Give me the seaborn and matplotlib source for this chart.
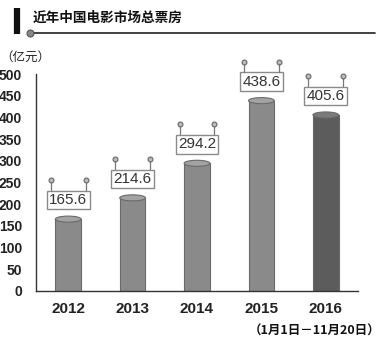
import matplotlib
matplotlib.use("Agg")
import matplotlib.pyplot as plt
import matplotlib.transforms as mtransforms
from matplotlib.patches import Ellipse
import seaborn as sns
import pandas as pd

years = ["2012", "2013", "2014", "2015", "2016"]
values = [165.6, 214.6, 294.2, 438.6, 405.6]
bar_colors = ["#8a8a8a", "#8a8a8a", "#8a8a8a", "#8a8a8a", "#5c5c5c"]
top_colors = ["#a3a3a3", "#a3a3a3", "#a3a3a3", "#a3a3a3", "#7a7a7a"]
yticks = [0, 50, 100, 150, 200, 250, 300, 350, 400, 450, 500]

sns.set_style("white")
plt.rcParams['font.family'] = ['Liberation Sans', 'Noto Sans CJK SC', 'DejaVu Sans']

df = pd.DataFrame({"year": years, "value": values})

fig = plt.figure(figsize=(3.91, 3.42), dpi=100)
ax = fig.add_axes([36/391, 1-291/342, (358-36)/391, (291-74)/342])

bw = 0.4
sns.barplot(data=df, x="year", y="value", hue="year", palette=bar_colors,
            legend=False, width=bw, ax=ax, edgecolor="#6a6a6a", linewidth=0.8,
            saturation=1)

ax.set_xlim(-0.5, 4.5)
ax.set_ylim(0, 500)

# cylinder tops
for i, v in enumerate(values):
    e = Ellipse((i, v), width=bw, height=14, facecolor=top_colors[i],
                edgecolor="#6a6a6a", linewidth=0.8, zorder=5)
    ax.add_patch(e)

# label boxes with pins
for i, v in enumerate(values):
    tr_box = mtransforms.offset_copy(ax.transData, fig=fig, x=0, y=19, units='dots')
    ax.text(i, v, f"{v}", transform=tr_box, ha="center", va="center",
            fontsize=11, color="#333333", zorder=6,
            bbox=dict(boxstyle="square,pad=0.15", facecolor="white",
                      edgecolor="#8a8a8a", linewidth=1.0))
    for dx in (-0.27, 0.27):
        tr_lo = mtransforms.offset_copy(ax.transData, fig=fig, x=0, y=29, units='dots')
        tr_hi = mtransforms.offset_copy(ax.transData, fig=fig, x=0, y=39, units='dots')
        # line from box top to pin
        x0, y0 = tr_lo.transform((i + dx, v))
        x1, y1 = tr_hi.transform((i + dx, v))
        inv = ax.transData.inverted()
        (dx0, dy0), (dx1, dy1) = inv.transform([(x0, y0), (x1, y1)])
        ax.plot([dx0, dx1], [dy0, dy1], color="#777777", lw=0.9, zorder=6,
                clip_on=False)
        ax.plot([dx1], [dy1], marker="o", ms=3.5, mfc="#bbbbbb", mec="#666666",
                mew=0.8, zorder=7, clip_on=False)

# axes styling
for s in ["top", "right"]:
    ax.spines[s].set_visible(False)
for s in ["left", "bottom"]:
    ax.spines[s].set_color("#333333")
    ax.spines[s].set_linewidth(1.0)

ax.set_yticks(yticks)
ax.set_yticklabels([str(t) for t in yticks], fontsize=10, fontweight="bold",
                   color="#222222")
ax.tick_params(axis="y", direction="in", length=4, width=0.8, color="#333333", pad=10)
ax.set_xticks(range(len(years)))
ax.set_xticklabels(years, fontsize=11, fontweight="bold", color="#222222")
ax.tick_params(axis="x", length=0, pad=8)
ax.set_xticks([0.5, 1.5, 2.5, 3.5, 4.5], minor=True)
ax.tick_params(axis="x", which="minor", direction="inout", length=5, width=0.8,
               color="#333333")
ax.set_xlabel("")
ax.set_ylabel("")
ax.grid(False)

# header
fig.add_artist(plt.Line2D([17/391, 17/391], [1-8/342, 1-34/342], color="#111111",
                          lw=4.5, solid_capstyle="butt"))
fig.add_artist(plt.Line2D([30/391, 375/391], [1-33/342, 1-33/342], color="#222222",
                          lw=1.2))
fig.add_artist(plt.Line2D([30/391], [1-33/342], marker="o", ms=5, mfc="#888888",
                          mec="#555555", mew=0.8))
fig.text(33/391, 1-18/342, "近年中国电影市场总票房", fontsize=9.8, fontweight="bold",
         family=["Noto Sans CJK SC", "DejaVu Sans"], ha="left", va="center",
         color="#111111")
fig.text(0/391, 1-57/342, "（亿元）", fontsize=9, family=["Noto Sans CJK SC", "DejaVu Sans"],
         ha="left", va="center", color="#222222")
fig.text(380/391, 1-331/342, "（1月1日－11月20日）", fontsize=9, fontweight="bold",
         family=["Noto Sans CJK SC", "DejaVu Sans"], ha="right", va="center",
         color="#111111")

fig.savefig("out.png", dpi=100)
